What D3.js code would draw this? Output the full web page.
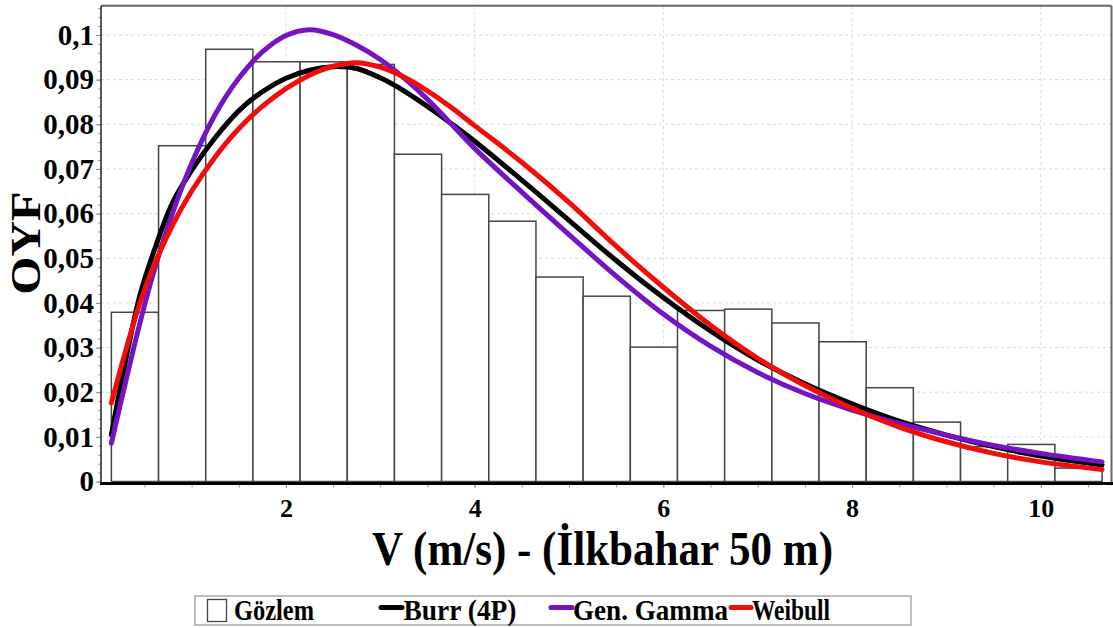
<!DOCTYPE html>
<html><head><meta charset="utf-8">
<script src="https://cdn.jsdelivr.net/npm/d3@7"></script>
<style>
html,body{margin:0;padding:0;background:#fff;}
svg{display:block;}
text{font-family:"Liberation Serif","Times New Roman",serif;font-weight:bold;fill:#000;}
</style></head>
<body><svg id="chart" width="1113" height="628"></svg>
<script>
// ---- data ----
const binStart = 0.15;
const binWidth = 0.5;
const observed = [0.0379, 0.0752, 0.0968, 0.0940, 0.0940, 0.0934, 0.0733, 0.0643, 0.0583, 0.0458,
                  0.0415, 0.0301, 0.0383, 0.0386, 0.0355, 0.0313, 0.0210, 0.0133, 0.0078, 0.0083, 0.0030];
const xGrid    = [0.15, 0.3, 0.45, 0.6, 0.8, 1.0, 1.25, 1.5, 1.75, 2.0, 2.25, 2.5, 2.75, 3.0, 3.25, 3.5, 3.75,
                  4.0, 4.5, 5.0, 5.5, 6.0, 6.5, 7.0, 7.5, 8.0, 8.5, 9.0, 9.5, 10.0, 10.65];
const burr     = [0.0105, 0.0270, 0.0415, 0.0515, 0.0625, 0.0697, 0.0770, 0.0830, 0.0873, 0.0903, 0.0921, 0.0929, 0.0925,
                  0.0904, 0.0875, 0.0840, 0.0802, 0.0762, 0.0675, 0.0585, 0.0495, 0.0412, 0.0337, 0.0272, 0.0219,
                  0.0174, 0.0135, 0.0104, 0.0078, 0.0057, 0.0037];
const genGamma = [0.0086, 0.0222, 0.0353, 0.0470, 0.0602, 0.0712, 0.0822, 0.0903, 0.0962, 0.0999, 0.1012, 0.1001, 0.0977,
                  0.0945, 0.0904, 0.0856, 0.0801, 0.0746, 0.0648, 0.0553, 0.0460, 0.0375, 0.0303, 0.0244, 0.0197,
                  0.0160, 0.0130, 0.0104, 0.0081, 0.0063, 0.0044];
const weibull  = [0.0176, 0.0292, 0.0398, 0.0483, 0.0575, 0.0650, 0.0727, 0.0790, 0.0840, 0.0880, 0.0910, 0.0930, 0.0938,
                  0.0928, 0.0906, 0.0875, 0.0838, 0.0797, 0.0715, 0.0625, 0.0527, 0.0435, 0.0350, 0.0276, 0.0215,
                  0.0164, 0.0122, 0.0089, 0.0063, 0.0044, 0.0027];
const xTicks = [2, 4, 6, 8, 10];
const xTickLabels = ["2", "4", "6", "8", "10"];
const yTicks = [0, 0.01, 0.02, 0.03, 0.04, 0.05, 0.06, 0.07, 0.08, 0.09, 0.1];
const yTickLabels = ["0", "0,01", "0,02", "0,03", "0,04", "0,05", "0,06", "0,07", "0,08", "0,09", "0,1"];
const seriesNames = ["Gözlem", "Burr (4P)", "Gen. Gamma", "Weibull"];
const xTitle = "V (m/s) - (İlkbahar 50 m)";
const yTitle = "OYF";

// ---- layout ----
const L = 101, R = 1111.5, T = 5.7, B = 481.5, AXY = 483.5;
const svg = d3.select("#chart");
const x = d3.scaleLinear().domain([0.04, 10.75]).range([L, R]);
const y = d3.scaleLinear().domain([0, 0.10656]).range([B, T]);

// grid
const grid = svg.append("g");
grid.selectAll(".hg").data(yTicks.filter(d => d > 0)).join("line")
  .attr("x1", L).attr("x2", R).attr("y1", d => y(d)).attr("y2", d => y(d))
  .attr("stroke", "#d9d9d9").attr("stroke-width", 1).attr("stroke-dasharray", "3,3");
grid.selectAll(".vg").data(xTicks).join("line")
  .attr("x1", d => x(d)).attr("x2", d => x(d)).attr("y1", T).attr("y2", B)
  .attr("stroke", "#d9d9d9").attr("stroke-width", 1).attr("stroke-dasharray", "3,3");

// bars
svg.append("g").selectAll("rect").data(observed).join("rect")
  .attr("x", (d, i) => x(binStart + i * binWidth))
  .attr("width", (d, i) => x(binStart + (i + 1) * binWidth) - x(binStart + i * binWidth))
  .attr("y", d => y(d)).attr("height", d => y(0) - y(d))
  .attr("fill", "#fff").attr("stroke", "#444").attr("stroke-width", 1.5);

// curves
const line = d3.line().x(d => x(d[0])).y(d => y(d[1])).curve(d3.curveCatmullRom.alpha(0.5));
const curves = [
  {vals: burr, color: "#000000"},
  {vals: genGamma, color: "#7414c4"},
  {vals: weibull, color: "#f20d0d"}
];
curves.forEach(c => {
  svg.append("path").datum(xGrid.map((v, i) => [v, c.vals[i]]))
    .attr("d", line).attr("fill", "none").attr("stroke", c.color)
    .attr("stroke-width", 5).attr("stroke-linecap", "round").attr("stroke-linejoin", "round");
});

// frame
svg.append("line").attr("x1", L).attr("x2", R).attr("y1", T).attr("y2", T).attr("stroke", "#666").attr("stroke-width", 2);
svg.append("line").attr("x1", R).attr("x2", R).attr("y1", T).attr("y2", AXY).attr("stroke", "#666").attr("stroke-width", 2);

// minor ticks
const yMinor = d3.range(0, 0.1061, 0.002);
svg.append("g").attr("transform", `translate(${L},0)`)
  .call(d3.axisLeft(y).tickValues(yMinor).tickSize(3).tickFormat(""))
  .call(g => { g.select(".domain").remove(); g.selectAll("line").attr("stroke", "#999"); });
const xMinor = d3.range(0.5, 10.75, 0.5);
svg.append("g").attr("transform", `translate(0,${AXY})`)
  .call(d3.axisBottom(x).tickValues(xMinor).tickSize(4).tickFormat(""))
  .call(g => { g.select(".domain").remove(); g.selectAll("line").attr("stroke", "#999"); });

// major axes
svg.append("g").attr("transform", `translate(${L},0)`)
  .call(d3.axisLeft(y).tickValues(yTicks).tickSize(5).tickPadding(2).tickFormat((d, i) => yTickLabels[i]))
  .call(g => {
    g.select(".domain").remove();
    g.selectAll("line").attr("stroke", "#888");
    g.selectAll("text").attr("font-size", 29).attr("font-family", "Liberation Serif").attr("font-weight", "bold").attr("fill", "#000");
  });
svg.append("g").attr("transform", `translate(0,${AXY})`)
  .call(d3.axisBottom(x).tickValues(xTicks).tickSize(4).tickPadding(11).tickFormat((d, i) => xTickLabels[i]))
  .call(g => {
    g.select(".domain").remove();
    g.selectAll("line").attr("stroke", "#888");
    g.selectAll("text").attr("font-size", 26).attr("font-family", "Liberation Serif").attr("font-weight", "bold").attr("fill", "#000");
  });

// axis lines
svg.append("line").attr("x1", L).attr("x2", L).attr("y1", T).attr("y2", AXY).attr("stroke", "#222").attr("stroke-width", 1.5);
svg.append("line").attr("x1", L - 1).attr("x2", 1113).attr("y1", AXY).attr("y2", AXY).attr("stroke", "#000").attr("stroke-width", 3);

// titles
svg.append("text").attr("x", 372).attr("y", 565).attr("font-size", 48)
  .attr("textLength", 461).attr("lengthAdjust", "spacingAndGlyphs").text(xTitle);
svg.append("text").attr("transform", "translate(40,243) rotate(-90) scale(1,0.85)")
  .attr("text-anchor", "middle").attr("font-size", 49).text(yTitle);

// legend
const lg = svg.append("g");
lg.append("rect").attr("x", 195).attr("y", 596).attr("width", 716).attr("height", 29)
  .attr("fill", "#fff").attr("stroke", "#a6a6a6").attr("stroke-width", 1.5);
lg.append("rect").attr("x", 207.5).attr("y", 599.5).attr("width", 19).attr("height", 22)
  .attr("fill", "#fff").attr("stroke", "#444").attr("stroke-width", 1.3);
const lineSw = [{x1: 381, x2: 402, c: "#000000"}, {x1: 551, x2: 572, c: "#7414c4"}, {x1: 731, x2: 751, c: "#f20d0d"}];
lineSw.forEach(s => lg.append("line").attr("x1", s.x1).attr("x2", s.x2).attr("y1", 607.5).attr("y2", 607.5)
  .attr("stroke", s.c).attr("stroke-width", 5).attr("stroke-linecap", "round"));
const legText = [{x: 234, w: 80}, {x: 403.5, w: 113}, {x: 573, w: 155}, {x: 752, w: 78}];
legText.forEach((t, i) => lg.append("text").attr("x", t.x).attr("y", 620).attr("font-size", 29)
  .attr("textLength", t.w).attr("lengthAdjust", "spacingAndGlyphs").text(seriesNames[i]));
</script></body></html>
